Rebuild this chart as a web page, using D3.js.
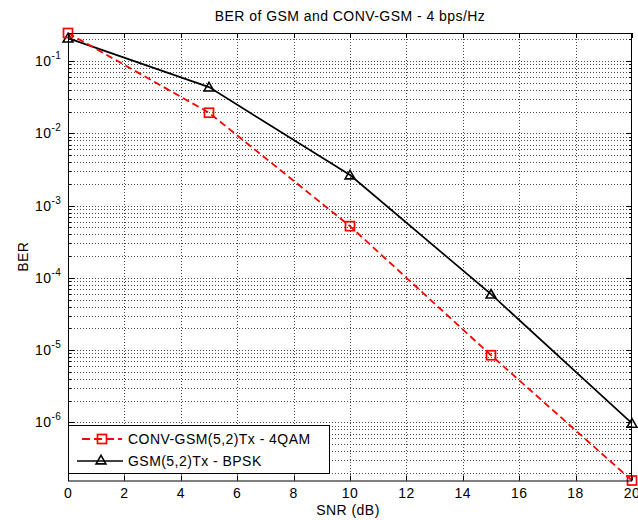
<!DOCTYPE html>
<html><head><meta charset="utf-8">
<script src="https://cdn.jsdelivr.net/npm/d3@7"></script>
<style>
html,body{margin:0;padding:0;background:#fff;}
svg text{font-family:"Liberation Sans",Arial,Helvetica,sans-serif;fill:#000;letter-spacing:0.45px;}
</style>
</head><body>
<svg id="chart" width="638" height="520"></svg>
<script>
const snr = [0, 5, 10, 15, 20];
const berConv = [0.245, 0.0193, 5.2e-4, 8.5e-6, 1.57e-7];
const berGsm = [0.208, 0.0437, 2.65e-3, 5.95e-5, 9.7e-7];
const seriesNames = ["CONV-GSM(5,2)Tx - 4QAM", "GSM(5,2)Tx - BPSK"];
const xTicks = [0, 2, 4, 6, 8, 10, 12, 14, 16, 18, 20];
const yExponents = [-1, -2, -3, -4, -5, -6];
const titleText = "BER of GSM and CONV-GSM - 4 bps/Hz";
const xLabel = "SNR (dB)";
const yLabel = "BER";

const svg = d3.select("#chart");
const L = 68, R = 632, T = 33, B = 480.5;
const FS = 14;
const all = berConv.concat(berGsm);
const x = d3.scaleLinear().domain([0, 20]).range([L, R]);
const y = d3.scaleLog().domain([d3.min(all), d3.max(all)]).range([B, T]);

const g = svg.append("g");
// grid
const minor = [];
for (let e = -8; e <= 0; e++) for (let m = 1; m <= 9; m++) {
  const v = m * Math.pow(10, e);
  if (v >= y.domain()[0] && v <= y.domain()[1]) minor.push({v, major: m === 1});
}
const grid = g.append("g").attr("stroke", "#000").attr("stroke-width", 1).attr("stroke-dasharray", "1,2").attr("opacity", 0.7);
minor.forEach(d => {
  const yy = Math.round(y(d.v)) + 0.5;
  grid.append("line").attr("x1", L).attr("x2", R).attr("y1", yy).attr("y2", yy);
});
xTicks.slice(1, -1).forEach(t => {
  const xx = Math.round(x(t)) + 0.5;
  grid.append("line").attr("x1", xx).attr("x2", xx).attr("y1", T).attr("y2", B);
});

// ticks
const tk = g.append("g").attr("stroke", "#000").attr("stroke-width", 1);
minor.forEach(d => {
  const yy = Math.round(y(d.v)) + 0.5;
  const len = d.major ? 6 : 3;
  tk.append("line").attr("x1", L).attr("x2", L + len).attr("y1", yy).attr("y2", yy);
  tk.append("line").attr("x1", R).attr("x2", R - len).attr("y1", yy).attr("y2", yy);
});
xTicks.forEach(t => {
  const xx = Math.round(x(t)) + 0.5;
  tk.append("line").attr("x1", xx).attr("x2", xx).attr("y1", B).attr("y2", B - 5);
  tk.append("line").attr("x1", xx).attr("x2", xx).attr("y1", T).attr("y2", T + 5);
});

// tick labels
xTicks.forEach(t => {
  g.append("text").attr("x", x(t)).attr("y", 498).attr("text-anchor", "middle")
    .attr("font-size", FS).text(t);
});
yExponents.forEach(e => {
  const yy = y(Math.pow(10, e));
  const t = g.append("text").attr("x", 35).attr("y", yy + 5).attr("font-size", FS);
  t.append("tspan").text("10");
  t.append("tspan").attr("dy", -7).attr("font-size", 10).text(String(e));
});

// lines
const line = d3.line().x((d, i) => x(snr[i])).y(d => y(d));
g.append("path").datum(berGsm).attr("d", line).attr("fill", "none")
  .attr("stroke", "#000").attr("stroke-width", 1.7);
g.append("path").datum(berConv).attr("d", line).attr("fill", "none")
  .attr("stroke", "#ff0000").attr("stroke-width", 1.8).attr("stroke-dasharray", "7,4");

const tri = d3.symbol().type(d3.symbolTriangle).size(42);
function drawTri(sel, cx, cy) {
  sel.append("path").attr("d", tri()).attr("transform", `translate(${cx},${cy+1})`)
    .attr("fill", "none").attr("stroke", "#000").attr("stroke-width", 1.6);
}
function drawSq(sel, cx, cy) {
  sel.append("rect").attr("x", cx - 4.5).attr("y", cy - 4.5).attr("width", 9).attr("height", 9)
    .attr("fill", "none").attr("stroke", "#ff0000").attr("stroke-width", 1.7);
}
berGsm.forEach((d, i) => drawTri(g, x(snr[i]), y(d)));
berConv.forEach((d, i) => drawSq(g, x(snr[i]), y(d)));

// axes box
g.append("rect").attr("x", L + 0.5).attr("y", T + 0.5).attr("width", R - L - 1).attr("height", B - T)
  .attr("fill", "none").attr("stroke", "#000").attr("stroke-width", 1);

// legend
const lg = g.append("g");
lg.append("rect").attr("x", 68.5).attr("y", 425.5).attr("width", 261).attr("height", 48)
  .attr("fill", "#fff").attr("stroke", "#000").attr("stroke-width", 1);
lg.append("line").attr("x1", 82).attr("x2", 122).attr("y1", 439).attr("y2", 439)
  .attr("stroke", "#ff0000").attr("stroke-width", 1.8).attr("stroke-dasharray", "8,4");
drawSq(lg, 102, 439);
lg.append("line").attr("x1", 77).attr("x2", 123).attr("y1", 461).attr("y2", 461)
  .attr("stroke", "#000").attr("stroke-width", 1.7);
drawTri(lg, 101, 460);
lg.append("text").attr("x", 128).attr("y", 444).attr("font-size", FS).text(seriesNames[0]);
lg.append("text").attr("x", 128).attr("y", 466).attr("font-size", FS).text(seriesNames[1]);

// titles
g.append("text").attr("x", (L + R) / 2).attr("y", 21).attr("text-anchor", "middle").attr("font-size", FS).text(titleText);
g.append("text").attr("x", 348).attr("y", 515).attr("text-anchor", "middle").attr("font-size", FS).text(xLabel);
g.append("text").attr("transform", `translate(28,${(T + B) / 2}) rotate(-90)`).attr("text-anchor", "middle").attr("font-size", FS).text(yLabel);
</script>
</body></html>
